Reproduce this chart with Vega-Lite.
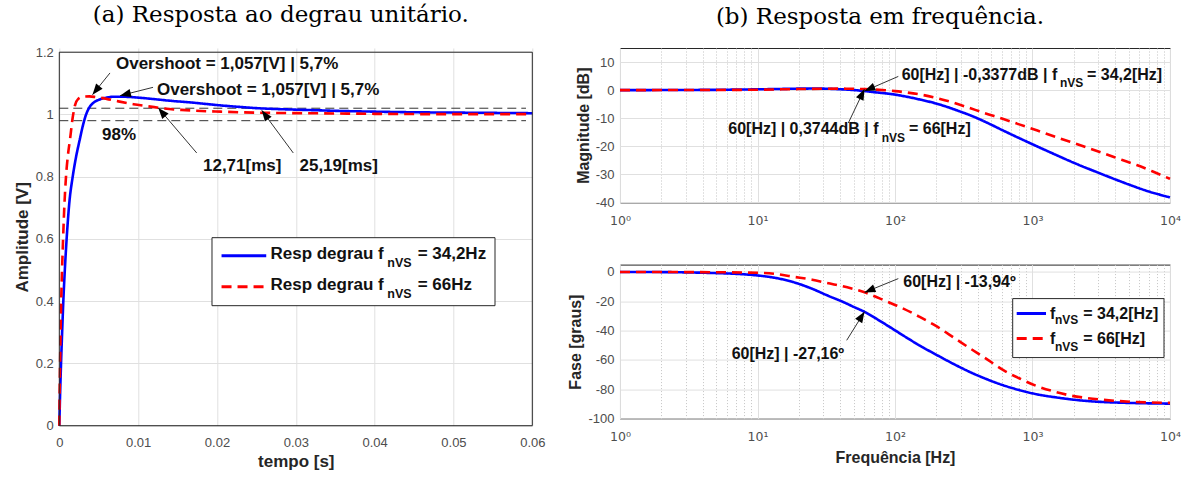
{
  "$schema": "https://vega.github.io/schema/vega-lite/v6.json",
  "background": "white",
  "padding": {"left": 12.3, "top": 4, "right": 0, "bottom": 0},
  "autosize": {"type": "pad"},
  "config": {
    "font": "Liberation Sans",
    "view": {"stroke": "#262626", "strokeWidth": 1},
    "axis": {"labelFont": "Liberation Sans", "labelFontSize": 13, "labelColor": "#4d4d4d", "titleFont": "Liberation Sans", "titleFontWeight": "bold", "titleColor": "#262626", "gridColor": "#e0e0e0", "gridWidth": 1, "domain": false, "ticks": false, "labelFlush": false, "labelOverlap": false, "labelBound": false},
    "title": {"font": "DejaVu Serif", "fontSize": 23, "fontWeight": "normal", "color": "#000000"}
  },
  "datasets": {
    "step": [
      {"t":0,"v":0,"s":"34,2Hz"},{"t":0.0001,"v":0.1,"s":"34,2Hz"},{"t":0.00022,"v":0.2,"s":"34,2Hz"},{"t":0.00036,"v":0.3,"s":"34,2Hz"},{"t":0.00051,"v":0.4,"s":"34,2Hz"},{"t":0.0007,"v":0.5,"s":"34,2Hz"},{"t":0.00093,"v":0.6,"s":"34,2Hz"},{"t":0.00127,"v":0.716,"s":"34,2Hz"},{"t":0.0017,"v":0.8,"s":"34,2Hz"},{"t":0.0021,"v":0.86,"s":"34,2Hz"},{"t":0.0026,"v":0.92,"s":"34,2Hz"},{"t":0.003,"v":0.965,"s":"34,2Hz"},{"t":0.0034,"v":1.0,"s":"34,2Hz"},{"t":0.0038,"v":1.022,"s":"34,2Hz"},{"t":0.0043,"v":1.037,"s":"34,2Hz"},{"t":0.005,"v":1.047,"s":"34,2Hz"},{"t":0.006,"v":1.054,"s":"34,2Hz"},{"t":0.007,"v":1.057,"s":"34,2Hz"},{"t":0.008,"v":1.057,"s":"34,2Hz"},{"t":0.009,"v":1.056,"s":"34,2Hz"},{"t":0.0105,"v":1.053,"s":"34,2Hz"},{"t":0.0125,"v":1.048,"s":"34,2Hz"},{"t":0.0145,"v":1.043,"s":"34,2Hz"},{"t":0.0165,"v":1.039,"s":"34,2Hz"},{"t":0.0185,"v":1.034,"s":"34,2Hz"},{"t":0.0205,"v":1.029,"s":"34,2Hz"},{"t":0.023,"v":1.024,"s":"34,2Hz"},{"t":0.0252,"v":1.02,"s":"34,2Hz"},{"t":0.028,"v":1.017,"s":"34,2Hz"},{"t":0.032,"v":1.014,"s":"34,2Hz"},{"t":0.036,"v":1.011,"s":"34,2Hz"},{"t":0.04,"v":1.009,"s":"34,2Hz"},{"t":0.045,"v":1.007,"s":"34,2Hz"},{"t":0.05,"v":1.006,"s":"34,2Hz"},{"t":0.055,"v":1.005,"s":"34,2Hz"},{"t":0.06,"v":1.004,"s":"34,2Hz"},
      {"t":0,"v":0,"s":"66Hz"},{"t":0.00004,"v":0.1,"s":"66Hz"},{"t":0.0001,"v":0.2,"s":"66Hz"},{"t":0.00016,"v":0.3,"s":"66Hz"},{"t":0.00024,"v":0.4,"s":"66Hz"},{"t":0.00035,"v":0.5,"s":"66Hz"},{"t":0.00048,"v":0.6,"s":"66Hz"},{"t":0.00066,"v":0.716,"s":"66Hz"},{"t":0.00085,"v":0.8,"s":"66Hz"},{"t":0.0011,"v":0.87,"s":"66Hz"},{"t":0.00136,"v":0.92,"s":"66Hz"},{"t":0.0017,"v":0.99,"s":"66Hz"},{"t":0.002,"v":1.03,"s":"66Hz"},{"t":0.0024,"v":1.05,"s":"66Hz"},{"t":0.003,"v":1.057,"s":"66Hz"},{"t":0.0038,"v":1.058,"s":"66Hz"},{"t":0.0046,"v":1.056,"s":"66Hz"},{"t":0.006,"v":1.05,"s":"66Hz"},{"t":0.0075,"v":1.042,"s":"66Hz"},{"t":0.0094,"v":1.033,"s":"66Hz"},{"t":0.011,"v":1.027,"s":"66Hz"},{"t":0.0127,"v":1.021,"s":"66Hz"},{"t":0.0145,"v":1.016,"s":"66Hz"},{"t":0.016,"v":1.014,"s":"66Hz"},{"t":0.018,"v":1.011,"s":"66Hz"},{"t":0.0205,"v":1.009,"s":"66Hz"},{"t":0.023,"v":1.007,"s":"66Hz"},{"t":0.027,"v":1.005,"s":"66Hz"},{"t":0.032,"v":1.004,"s":"66Hz"},{"t":0.04,"v":1.002,"s":"66Hz"},{"t":0.05,"v":1.001,"s":"66Hz"},{"t":0.06,"v":1.001,"s":"66Hz"}
    ],
    "stepBand": [{"t0":0,"t1":0.0592,"v":1.02},{"t0":0,"t1":0.0592,"v":0.98}],
    "stepFrame": [{"t0":0,"t1":0.06,"v0":0,"v1":1.2}],
    "stepNotes": [
      {"t":0.00719,"v":1.1632,"label":"Overshoot = 1,057[V] | 5,7%"},
      {"t":0.01239,"v":1.0774,"label":"Overshoot = 1,057[V] | 5,7%"},
      {"t":0.00542,"v":0.9351,"label":"98%"},
      {"t":0.01823,"v":0.8355,"label":"12,71[ms]"},
      {"t":0.03047,"v":0.8355,"label":"25,19[ms]"},
      {"t":0.02679,"v":0.5527,"label":"Resp degrau f"},
      {"t":0.04546,"v":0.5527,"label":"= 34,2Hz"},
      {"t":0.02679,"v":0.4531,"label":"Resp degrau f"},
      {"t":0.04546,"v":0.4531,"label":"= 66Hz"}
    ],
    "stepSub": [{"t":0.04161,"v":0.5238,"label":"nVS"},{"t":0.04161,"v":0.4242,"label":"nVS"}],
    "stepArrows": [
      {"t0":0.00643,"v0":1.1333,"t1":0.00421,"v1":1.0636,"ang":218.9},
      {"t0":0.01189,"v0":1.0871,"t1":0.0077,"v1":1.0604,"ang":255.9},
      {"t0":0.01743,"v0":0.8763,"t1":0.01256,"v1":1.0209,"ang":319.5},
      {"t0":0.02968,"v0":0.8763,"t1":0.02568,"v1":1.0132,"ang":323.4}
    ],
    "stepLegendBox": [{"t0":0.01937,"t1":0.05527,"v0":0.3856,"v1":0.6041}],
    "stepLegendLines": [{"t0":0.02058,"t1":0.02625,"v":0.5463,"s":"34,2Hz"},{"t0":0.02058,"t1":0.02625,"v":0.4467,"s":"66Hz"}],
    "mag": [
      {"f":1,"db":0,"s":"34,2Hz"},{"f":2,"db":0.02,"s":"34,2Hz"},{"f":3,"db":0.05,"s":"34,2Hz"},{"f":5,"db":0.1,"s":"34,2Hz"},{"f":7,"db":0.18,"s":"34,2Hz"},{"f":10,"db":0.28,"s":"34,2Hz"},{"f":15,"db":0.42,"s":"34,2Hz"},{"f":20,"db":0.52,"s":"34,2Hz"},{"f":25,"db":0.55,"s":"34,2Hz"},{"f":30,"db":0.52,"s":"34,2Hz"},{"f":40,"db":0.3,"s":"34,2Hz"},{"f":50,"db":0.02,"s":"34,2Hz"},{"f":60,"db":-0.34,"s":"34,2Hz"},{"f":70,"db":-0.72,"s":"34,2Hz"},{"f":85,"db":-1.15,"s":"34,2Hz"},{"f":100,"db":-1.6,"s":"34,2Hz"},{"f":120,"db":-2.3,"s":"34,2Hz"},{"f":150,"db":-3.3,"s":"34,2Hz"},{"f":200,"db":-4.8,"s":"34,2Hz"},{"f":250,"db":-6.3,"s":"34,2Hz"},{"f":300,"db":-7.7,"s":"34,2Hz"},{"f":350,"db":-8.9,"s":"34,2Hz"},{"f":400,"db":-10.1,"s":"34,2Hz"},{"f":500,"db":-12.3,"s":"34,2Hz"},{"f":600,"db":-14.2,"s":"34,2Hz"},{"f":800,"db":-17.1,"s":"34,2Hz"},{"f":1000,"db":-19.3,"s":"34,2Hz"},{"f":1500,"db":-23.2,"s":"34,2Hz"},{"f":2000,"db":-25.9,"s":"34,2Hz"},{"f":3000,"db":-29.4,"s":"34,2Hz"},{"f":4000,"db":-31.8,"s":"34,2Hz"},{"f":5000,"db":-33.6,"s":"34,2Hz"},{"f":7000,"db":-36.1,"s":"34,2Hz"},{"f":10000,"db":-38.2,"s":"34,2Hz"},
      {"f":1,"db":0,"s":"66Hz"},{"f":3,"db":0.03,"s":"66Hz"},{"f":5,"db":0.06,"s":"66Hz"},{"f":10,"db":0.15,"s":"66Hz"},{"f":15,"db":0.28,"s":"66Hz"},{"f":20,"db":0.38,"s":"66Hz"},{"f":30,"db":0.5,"s":"66Hz"},{"f":40,"db":0.52,"s":"66Hz"},{"f":50,"db":0.47,"s":"66Hz"},{"f":60,"db":0.37,"s":"66Hz"},{"f":70,"db":0.22,"s":"66Hz"},{"f":85,"db":-0.05,"s":"66Hz"},{"f":100,"db":-0.35,"s":"66Hz"},{"f":120,"db":-0.8,"s":"66Hz"},{"f":150,"db":-1.5,"s":"66Hz"},{"f":200,"db":-2.8,"s":"66Hz"},{"f":250,"db":-4.1,"s":"66Hz"},{"f":300,"db":-5.3,"s":"66Hz"},{"f":350,"db":-6.4,"s":"66Hz"},{"f":450,"db":-8.2,"s":"66Hz"},{"f":614,"db":-10.3,"s":"66Hz"},{"f":800,"db":-12.2,"s":"66Hz"},{"f":1072,"db":-14.3,"s":"66Hz"},{"f":1500,"db":-16.8,"s":"66Hz"},{"f":1875,"db":-18.4,"s":"66Hz"},{"f":2500,"db":-20.5,"s":"66Hz"},{"f":3275,"db":-22.5,"s":"66Hz"},{"f":4500,"db":-24.9,"s":"66Hz"},{"f":5724,"db":-26.7,"s":"66Hz"},{"f":7500,"db":-29.0,"s":"66Hz"},{"f":10000,"db":-31.6,"s":"66Hz"}
    ],
    "magNotes": [
      {"f":111.9,"db":5.49,"label":"60[Hz] | -0,3377dB | f"},
      {"f":2491,"db":5.49,"label":"= 34,2[Hz]"},
      {"f":6.133,"db":-13.75,"label":"60[Hz] | 0,3744dB | f"},
      {"f":126.4,"db":-13.75,"label":"= 66[Hz]"}
    ],
    "magSub": [{"f":1584.9,"db":2.53,"label":"nVS"},{"f":80.07,"db":-17.06,"label":"nVS"}],
    "magArrows": [
      {"f0":105.7,"d0":4.88,"f1":60,"d1":-0.34,"ang":246.6},
      {"f0":45.75,"d0":-11.72,"f1":60,"d1":0.37,"ang":25.5}
    ],
    "phase": [
      {"f":1,"p":0,"s":"34,2Hz"},{"f":2,"p":-0.1,"s":"34,2Hz"},{"f":3,"p":-0.3,"s":"34,2Hz"},{"f":5,"p":-0.8,"s":"34,2Hz"},{"f":7,"p":-1.3,"s":"34,2Hz"},{"f":10,"p":-2.4,"s":"34,2Hz"},{"f":13,"p":-3.8,"s":"34,2Hz"},{"f":18,"p":-6.8,"s":"34,2Hz"},{"f":25,"p":-11.5,"s":"34,2Hz"},{"f":32,"p":-15.9,"s":"34,2Hz"},{"f":42,"p":-20.5,"s":"34,2Hz"},{"f":50,"p":-23.8,"s":"34,2Hz"},{"f":60,"p":-27.2,"s":"34,2Hz"},{"f":78,"p":-33.5,"s":"34,2Hz"},{"f":100,"p":-39.8,"s":"34,2Hz"},{"f":115,"p":-43.4,"s":"34,2Hz"},{"f":150,"p":-50,"s":"34,2Hz"},{"f":200,"p":-56.5,"s":"34,2Hz"},{"f":270,"p":-63,"s":"34,2Hz"},{"f":350,"p":-68.2,"s":"34,2Hz"},{"f":450,"p":-72.6,"s":"34,2Hz"},{"f":614,"p":-77.3,"s":"34,2Hz"},{"f":800,"p":-80.5,"s":"34,2Hz"},{"f":1072,"p":-83.4,"s":"34,2Hz"},{"f":1500,"p":-85.6,"s":"34,2Hz"},{"f":1875,"p":-86.8,"s":"34,2Hz"},{"f":2500,"p":-88,"s":"34,2Hz"},{"f":3275,"p":-88.7,"s":"34,2Hz"},{"f":5000,"p":-89.3,"s":"34,2Hz"},{"f":10000,"p":-89.8,"s":"34,2Hz"},
      {"f":1,"p":0,"s":"66Hz"},{"f":3,"p":-0.1,"s":"66Hz"},{"f":5,"p":-0.2,"s":"66Hz"},{"f":10,"p":-0.6,"s":"66Hz"},{"f":14,"p":-1.5,"s":"66Hz"},{"f":18,"p":-3.2,"s":"66Hz"},{"f":25,"p":-5.3,"s":"66Hz"},{"f":32,"p":-7.5,"s":"66Hz"},{"f":45,"p":-10.5,"s":"66Hz"},{"f":60,"p":-13.9,"s":"66Hz"},{"f":78,"p":-18.2,"s":"66Hz"},{"f":100,"p":-22.5,"s":"66Hz"},{"f":115,"p":-25,"s":"66Hz"},{"f":150,"p":-30.5,"s":"66Hz"},{"f":200,"p":-37,"s":"66Hz"},{"f":270,"p":-45,"s":"66Hz"},{"f":350,"p":-52,"s":"66Hz"},{"f":450,"p":-58.5,"s":"66Hz"},{"f":614,"p":-67,"s":"66Hz"},{"f":800,"p":-72.5,"s":"66Hz"},{"f":1072,"p":-77.8,"s":"66Hz"},{"f":1500,"p":-82,"s":"66Hz"},{"f":1875,"p":-84.2,"s":"66Hz"},{"f":2500,"p":-86,"s":"66Hz"},{"f":3275,"p":-87.2,"s":"66Hz"},{"f":5724,"p":-88.7,"s":"66Hz"},{"f":10000,"p":-89.3,"s":"66Hz"}
    ],
    "phaseNotes": [
      {"f":114.9,"p":-6.87,"label":"60[Hz] | -13,94º"},
      {"f":6.494,"p":-55.68,"label":"60[Hz] | -27,16º"},
      {"f":1341,"p":-28.41,"label":"f"},
      {"f":2342,"p":-28.41,"label":"= 34,2[Hz]"},
      {"f":1341,"p":-45.9,"label":"f"},
      {"f":2342,"p":-45.9,"label":"= 66[Hz]"}
    ],
    "phaseSub": [{"f":1457.6,"p":-32.98,"label":"nVS"},{"f":1457.6,"p":-51.18,"label":"nVS"}],
    "phaseArrows": [
      {"f0":105.7,"p0":-4.55,"f1":60,"p1":-13.94,"ang":247.8},
      {"f0":44.54,"p0":-46.62,"f1":60,"p1":-27.16,"ang":32.0}
    ],
    "phaseLegendBox": [{"f0":717.8,"f1":9045,"p0":-58.4,"p1":-18.18}],
    "phaseLegendLines": [{"f0":767.5,"f1":1254,"p":-28.41,"s":"34,2Hz"},{"f0":767.5,"f1":1254,"p":-45.46,"s":"66Hz"}]
  },
  "spacing": 87.7,
  "bounds": "flush",
  "hconcat": [
    {
      "width": 473,
      "height": 377.7,
      "view": {"stroke": null},
      "title": {"text": "(a) Resposta ao degrau unitário.", "offset": 1, "dx": -15, "baseline": "alphabetic"},
      "layer": [
        {
          "data": {"name": "stepBand"},
          "mark": {"type": "rule", "color": "#333333", "strokeWidth": 1, "strokeDash": [9, 5]},
          "encoding": {
            "x": {"field": "t0", "type": "quantitative", "scale": {"domain": [0, 0.06], "nice": false, "zero": false}, "axis": {"values": [0, 0.01, 0.02, 0.03, 0.04, 0.05, 0.06], "tickCount": 20, "format": ".2~f", "title": "tempo [s]", "titleFontSize": 17, "labelPadding": 11, "titlePadding": 4, "labelOverlap": false}},
            "x2": {"field": "t1"},
            "y": {"field": "v", "type": "quantitative", "scale": {"domain": [0, 1.2135], "nice": false, "zero": false}, "axis": {"values": [0, 0.2, 0.4, 0.6, 0.8, 1, 1.2], "tickCount": 20, "format": "~g", "title": "Amplitude [V]", "titleFontSize": 17, "labelPadding": 6, "titlePadding": 4, "labelOverlap": false}}
          }
        },
        {
          "data": {"name": "step"},
          "mark": {"type": "line", "strokeWidth": 2.6, "interpolate": "monotone"},
          "encoding": {
            "x": {"field": "t", "type": "quantitative"},
            "y": {"field": "v", "type": "quantitative"},
            "color": {"field": "s", "type": "nominal", "scale": {"domain": ["34,2Hz", "66Hz"], "range": ["#0000ff", "#ff0000"]}, "legend": null},
            "strokeDash": {"field": "s", "type": "nominal", "scale": {"domain": ["34,2Hz", "66Hz"], "range": [[1, 0], [10, 6]]}, "legend": null}
          }
        },
        {
          "data": {"name": "stepArrows"},
          "mark": {"type": "rule", "color": "#333333", "strokeWidth": 1},
          "encoding": {
            "x": {"field": "t0", "type": "quantitative"},
            "y": {"field": "v0", "type": "quantitative"},
            "x2": {"field": "t1"},
            "y2": {"field": "v1"}
          }
        },
        {
          "data": {"name": "stepArrows"},
          "mark": {"type": "point", "shape": "M0,0L-0.38,1L0.38,1Z", "filled": true, "color": "#000000", "opacity": 1, "size": 480, "strokeWidth": 0},
          "encoding": {
            "x": {"field": "t1", "type": "quantitative"},
            "y": {"field": "v1", "type": "quantitative"},
            "angle": {"field": "ang", "type": "quantitative", "scale": null}
          }
        },
        {
          "data": {"name": "stepLegendBox"},
          "mark": {"type": "rect", "fill": "#ffffff", "stroke": "#262626", "strokeWidth": 1},
          "encoding": {
            "x": {"field": "t0", "type": "quantitative"},
            "x2": {"field": "t1"},
            "y": {"field": "v0", "type": "quantitative"},
            "y2": {"field": "v1"}
          }
        },
        {
          "data": {"name": "stepLegendLines"},
          "mark": {"type": "rule", "strokeWidth": 3},
          "encoding": {
            "x": {"field": "t0", "type": "quantitative"},
            "x2": {"field": "t1"},
            "y": {"field": "v", "type": "quantitative"},
            "color": {"field": "s", "type": "nominal", "legend": null},
            "strokeDash": {"field": "s", "type": "nominal", "legend": null}
          }
        },
        {
          "data": {"name": "stepNotes"},
          "mark": {"type": "text", "font": "Liberation Sans", "fontWeight": "bold", "fontSize": 17, "align": "left", "baseline": "middle", "color": "#111111"},
          "encoding": {
            "x": {"field": "t", "type": "quantitative"},
            "y": {"field": "v", "type": "quantitative"},
            "text": {"field": "label"}
          }
        },
        {
          "data": {"name": "stepSub"},
          "mark": {"type": "text", "font": "Liberation Sans", "fontWeight": "bold", "fontSize": 12.5, "align": "left", "baseline": "middle", "color": "#111111"},
          "encoding": {
            "x": {"field": "t", "type": "quantitative"},
            "y": {"field": "v", "type": "quantitative"},
            "text": {"field": "label"}
          }
        },
        {
          "data": {"name": "stepFrame"},
          "mark": {"type": "rect", "filled": false, "color": "#262626", "strokeWidth": 1},
          "encoding": {
            "x": {"field": "t0", "type": "quantitative"},
            "x2": {"field": "t1"},
            "y": {"field": "v0", "type": "quantitative"},
            "y2": {"field": "v1"}
          }
        }
      ]
    },
    {
      "spacing": 61.6,
      "bounds": "flush",
      "vconcat": [
        {
          "width": 550,
          "height": 154.4,
          "title": {"text": "(b) Resposta em frequência.", "offset": 1, "dx": -15, "baseline": "alphabetic"},
          "layer": [
            {
              "data": {"name": "mag"},
              "mark": {"type": "line", "strokeWidth": 2.6, "interpolate": "monotone"},
              "encoding": {
                "x": {"field": "f", "type": "quantitative", "scale": {"type": "log", "domain": [1, 10000], "nice": false}, "axis": {"values": [1,2,3,4,5,6,7,8,9,10,20,30,40,50,60,70,80,90,100,200,300,400,500,600,700,800,900,1000,2000,3000,4000,5000,6000,7000,8000,9000,10000], "tickCount": 100, "labelExpr": "datum.value == 1 ? '10⁰' : datum.value == 10 ? '10¹' : datum.value == 100 ? '10²' : datum.value == 1000 ? '10³' : datum.value == 10000 ? '10⁴' : ''", "labelFont": "DejaVu Sans", "labelFontSize": 12.5, "gridDash": {"condition": {"test": "indexof([1,10,100,1000,10000], datum.value) < 0", "value": [1, 2]}, "value": []}, "gridColor": {"condition": {"test": "indexof([1,10,100,1000,10000], datum.value) < 0", "value": "#c4c4c4"}, "value": "#e0e0e0"}, "labelPadding": 12, "labelOverlap": false, "title": null}},
                "y": {"field": "db", "type": "quantitative", "scale": {"domain": [-40, 15], "nice": false, "zero": false}, "axis": {"values": [-40, -30, -20, -10, 0, 10], "tickCount": 20, "labelExpr": "'' + datum.value", "title": "Magnitude [dB]", "titleFontSize": 16, "labelPadding": 6, "titlePadding": 4, "labelOverlap": false}},
                "color": {"field": "s", "type": "nominal", "scale": {"domain": ["34,2Hz", "66Hz"], "range": ["#0000ff", "#ff0000"]}, "legend": null},
                "strokeDash": {"field": "s", "type": "nominal", "scale": {"domain": ["34,2Hz", "66Hz"], "range": [[1, 0], [10, 6]]}, "legend": null}
              }
            },
            {
              "data": {"name": "magArrows"},
              "mark": {"type": "rule", "color": "#333333", "strokeWidth": 1},
              "encoding": {
                "x": {"field": "f0", "type": "quantitative"},
                "y": {"field": "d0", "type": "quantitative"},
                "x2": {"field": "f1"},
                "y2": {"field": "d1"}
              }
            },
            {
              "data": {"name": "magArrows"},
              "mark": {"type": "point", "shape": "M0,0L-0.38,1L0.38,1Z", "filled": true, "color": "#000000", "opacity": 1, "size": 480, "strokeWidth": 0},
              "encoding": {
                "x": {"field": "f1", "type": "quantitative"},
                "y": {"field": "d1", "type": "quantitative"},
                "angle": {"field": "ang", "type": "quantitative", "scale": null}
              }
            },
            {
              "data": {"name": "magNotes"},
              "mark": {"type": "text", "font": "Liberation Sans", "fontWeight": "bold", "fontSize": 16, "align": "left", "baseline": "middle", "color": "#111111"},
              "encoding": {
                "x": {"field": "f", "type": "quantitative"},
                "y": {"field": "db", "type": "quantitative"},
                "text": {"field": "label"}
              }
            },
            {
              "data": {"name": "magSub"},
              "mark": {"type": "text", "font": "Liberation Sans", "fontWeight": "bold", "fontSize": 12, "align": "left", "baseline": "middle", "color": "#111111"},
              "encoding": {
                "x": {"field": "f", "type": "quantitative"},
                "y": {"field": "db", "type": "quantitative"},
                "text": {"field": "label"}
              }
            }
          ]
        },
        {
          "width": 550,
          "height": 154,
          "layer": [
            {
              "data": {"name": "phase"},
              "mark": {"type": "line", "strokeWidth": 2.6, "interpolate": "monotone"},
              "encoding": {
                "x": {"field": "f", "type": "quantitative", "scale": {"type": "log", "domain": [1, 10000], "nice": false}, "axis": {"values": [1,2,3,4,5,6,7,8,9,10,20,30,40,50,60,70,80,90,100,200,300,400,500,600,700,800,900,1000,2000,3000,4000,5000,6000,7000,8000,9000,10000], "tickCount": 100, "labelExpr": "datum.value == 1 ? '10⁰' : datum.value == 10 ? '10¹' : datum.value == 100 ? '10²' : datum.value == 1000 ? '10³' : datum.value == 10000 ? '10⁴' : ''", "labelFont": "DejaVu Sans", "labelFontSize": 12.5, "gridDash": {"condition": {"test": "indexof([1,10,100,1000,10000], datum.value) < 0", "value": [1, 2]}, "value": []}, "gridColor": {"condition": {"test": "indexof([1,10,100,1000,10000], datum.value) < 0", "value": "#c4c4c4"}, "value": "#e0e0e0"}, "labelPadding": 12, "labelOverlap": false, "title": "Frequência [Hz]", "titleFontSize": 16, "titlePadding": 6}},
                "y": {"field": "p", "type": "quantitative", "scale": {"domain": [-100, 5], "nice": false, "zero": false}, "axis": {"values": [-100, -80, -60, -40, -20, 0], "tickCount": 20, "labelExpr": "'' + datum.value", "title": "Fase [graus]", "titleFontSize": 16, "labelPadding": 6, "titlePadding": 4, "labelOverlap": false}},
                "color": {"field": "s", "type": "nominal", "scale": {"domain": ["34,2Hz", "66Hz"], "range": ["#0000ff", "#ff0000"]}, "legend": null},
                "strokeDash": {"field": "s", "type": "nominal", "scale": {"domain": ["34,2Hz", "66Hz"], "range": [[1, 0], [10, 6]]}, "legend": null}
              }
            },
            {
              "data": {"name": "phaseArrows"},
              "mark": {"type": "rule", "color": "#333333", "strokeWidth": 1},
              "encoding": {
                "x": {"field": "f0", "type": "quantitative"},
                "y": {"field": "p0", "type": "quantitative"},
                "x2": {"field": "f1"},
                "y2": {"field": "p1"}
              }
            },
            {
              "data": {"name": "phaseArrows"},
              "mark": {"type": "point", "shape": "M0,0L-0.38,1L0.38,1Z", "filled": true, "color": "#000000", "opacity": 1, "size": 480, "strokeWidth": 0},
              "encoding": {
                "x": {"field": "f1", "type": "quantitative"},
                "y": {"field": "p1", "type": "quantitative"},
                "angle": {"field": "ang", "type": "quantitative", "scale": null}
              }
            },
            {
              "data": {"name": "phaseLegendBox"},
              "mark": {"type": "rect", "fill": "#ffffff", "stroke": "#262626", "strokeWidth": 1},
              "encoding": {
                "x": {"field": "f0", "type": "quantitative"},
                "x2": {"field": "f1"},
                "y": {"field": "p0", "type": "quantitative"},
                "y2": {"field": "p1"}
              }
            },
            {
              "data": {"name": "phaseLegendLines"},
              "mark": {"type": "rule", "strokeWidth": 3},
              "encoding": {
                "x": {"field": "f0", "type": "quantitative"},
                "x2": {"field": "f1"},
                "y": {"field": "p", "type": "quantitative"},
                "color": {"field": "s", "type": "nominal", "legend": null},
                "strokeDash": {"field": "s", "type": "nominal", "legend": null}
              }
            },
            {
              "data": {"name": "phaseNotes"},
              "mark": {"type": "text", "font": "Liberation Sans", "fontWeight": "bold", "fontSize": 16, "align": "left", "baseline": "middle", "color": "#111111"},
              "encoding": {
                "x": {"field": "f", "type": "quantitative"},
                "y": {"field": "p", "type": "quantitative"},
                "text": {"field": "label"}
              }
            },
            {
              "data": {"name": "phaseSub"},
              "mark": {"type": "text", "font": "Liberation Sans", "fontWeight": "bold", "fontSize": 12, "align": "left", "baseline": "middle", "color": "#111111"},
              "encoding": {
                "x": {"field": "f", "type": "quantitative"},
                "y": {"field": "p", "type": "quantitative"},
                "text": {"field": "label"}
              }
            }
          ]
        }
      ]
    }
  ]
}
